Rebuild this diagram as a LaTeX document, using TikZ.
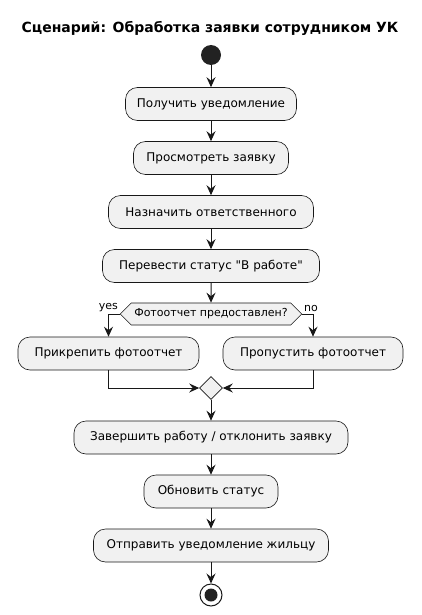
\documentclass[tikz,border=0pt]{standalone}
\usepackage{fontspec}
\setmainfont{DejaVu Sans}
\usepackage{xcolor}
\usetikzlibrary{arrows.meta,shapes.geometric,shapes.symbols}

\definecolor{boxfill}{HTML}{F1F1F1}
\definecolor{line}{HTML}{181818}
\definecolor{dot}{HTML}{222222}

\begin{document}
\begin{tikzpicture}[x=1pt,y=-1pt,>={Stealth[length=10pt,width=9pt,inset=3.5pt]},
  act/.style={draw=line,line width=0.6pt,fill=boxfill,rounded corners=12pt,
    minimum height=33pt,inner xsep=10.5pt,font=\fontsize{12}{14}\selectfont},
  decision/.style={signal,signal to=west and east,signal pointer angle=90,
    draw=line,line width=0.6pt,fill=boxfill,minimum height=22pt,inner xsep=3pt,
    inner ysep=0pt,font=\fontsize{11}{13}\selectfont},
  merge/.style={diamond,draw=line,line width=0.6pt,fill=boxfill,minimum size=23pt,inner sep=0pt},
  flow/.style={draw=line,line width=1pt,->},
  lbl/.style={font=\fontsize{11}{13}\selectfont,inner sep=1.5pt}]
  \useasboundingbox (0,0) rectangle (421,615);

  \node[font=\bfseries\fontsize{14}{16}\selectfont] (title) at (210,28)
    {Сценарий: Обработка заявки сотрудником УК};

  \node[circle,fill=dot,minimum size=20pt,inner sep=0pt] (start) at (211,55) {};
  \node[act,minimum width=171pt] (recv)   at (211,104)   {Получить уведомление};
  \node[act,minimum width=155pt] (view)   at (211,158)   {Просмотреть заявку};
  \node[act,minimum width=205pt] (assign) at (211,212)   {Назначить ответственного};
  \node[act,minimum width=217pt] (status) at (211,266)   {Перевести статус \textquotedbl В работе\textquotedbl};
  \node[decision] (photo) at (211,314) {Фотоотчет предоставлен?};
  \node[act,minimum width=181pt] (attach) at (108.5,353.5) {Прикрепить фотоотчет};
  \node[act,minimum width=180pt] (skip)   at (313,353.5) {Пропустить фотоотчет};
  \node[merge] (join) at (211,388) {};
  \node[act,minimum width=274pt] (finish) at (211,437.5) {Завершить работу / отклонить заявку};
  \node[act,minimum width=134pt] (update) at (211,491.5) {Обновить статус};
  \node[act,minimum width=235pt] (notify) at (211,545.5) {Отправить уведомление жильцу};
  \node[circle,draw=line,line width=1pt,fill=white,minimum size=22pt,inner sep=0pt]
    (stop) at (211,595) {};
  \fill[dot] (stop.center) circle (6.5);

  \foreach \a/\b in {start/recv,recv/view,view/assign,assign/status,status/photo,
                     join/finish,finish/update,update/notify,notify/stop}
    \draw[flow] (\a) -- (\b);

  \draw[flow] (photo.west) -| node[lbl,pos=0,anchor=south east] (yes) {yes} (attach.north);
  \draw[flow] (photo.east) -| node[lbl,pos=0,anchor=south west] (no) {no} (skip.north);
  \draw[flow] (attach.south) |- (join.west);
  \draw[flow] (skip.south) |- (join.east);
\end{tikzpicture}
\end{document}
